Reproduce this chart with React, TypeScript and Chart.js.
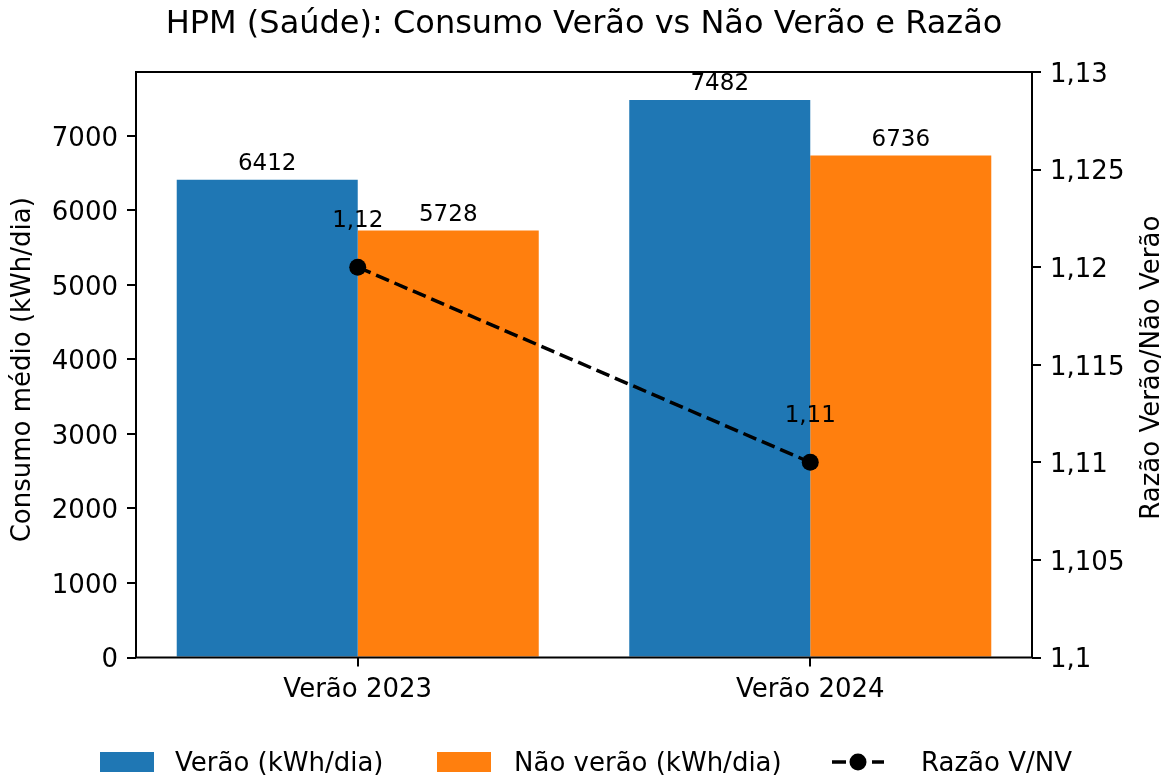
import React, { useEffect, useRef } from "react";
import { Chart, registerables } from "chart.js";

Chart.register(...registerables);

// ---- Data ----
const categories = ["Verão 2023", "Verão 2024"];
const veraoValues = [6412, 7482];
const naoVeraoValues = [5728, 6736];
const ratioValues = [1.12, 1.11];
const consumoTicks = [0, 1000, 2000, 3000, 4000, 5000, 6000, 7000];
const ratioTicks = [1.1, 1.105, 1.11, 1.115, 1.12, 1.125, 1.13];
const seriesNames = ["Verão (kWh/dia)", "Não verão (kWh/dia)", "Razão V/NV"];
const titleText = "HPM (Saúde): Consumo Verão vs Não Verão e Razão";
const leftAxisTitle = "Consumo médio (kWh/dia)";
const rightAxisTitle = "Razão Verão/Não Verão";

const BLUE = "#1f77b4";
const ORANGE = "#ff7f0e";
const FONT = "'DejaVu Sans', sans-serif";
const W = 1171;
const H = 776;

const fmtComma = (v: number, digits: number) =>
  Number(v.toFixed(digits)).toString().replace(".", ",");

const overlay = {
  id: "overlay",
  afterDatasetsDraw(chart: any) {
    const ctx = chart.ctx as CanvasRenderingContext2D;
    const { left, right, top, bottom } = chart.chartArea;
    ctx.save();
    ctx.fillStyle = "#000";
    ctx.textAlign = "center";
    ctx.textBaseline = "alphabetic";
    ctx.font = `23px ${FONT}`;
    [1, 2].forEach((di) => {
      const meta = chart.getDatasetMeta(di);
      meta.data.forEach((el: any, i: number) => {
        const v = chart.data.datasets[di].data[i].y;
        ctx.fillText(String(v), el.x, el.y - 9.5);
      });
    });
    const lm = chart.getDatasetMeta(0);
    lm.data.forEach((el: any, i: number) => {
      ctx.fillText(fmtComma(ratioValues[i], 2), el.x, el.y - 40);
    });
    // frame (spines)
    ctx.strokeStyle = "#000";
    ctx.lineWidth = 2;
    ctx.strokeRect(left, top, right - left, bottom - top);
    ctx.restore();
  },
  afterDraw(chart: any) {
    const ctx = chart.ctx as CanvasRenderingContext2D;
    const { left, right, top, bottom } = chart.chartArea;
    const midY = (top + bottom) / 2;
    ctx.save();
    ctx.fillStyle = "#000";
    // title
    ctx.font = `32px ${FONT}`;
    ctx.textAlign = "center";
    ctx.textBaseline = "alphabetic";
    ctx.fillText(titleText, (left + right) / 2, 33);
    // axis titles
    ctx.font = `26px ${FONT}`;
    ctx.textBaseline = "middle";
    ctx.save();
    ctx.translate(23, midY + 5);
    ctx.rotate(-Math.PI / 2);
    ctx.fillText(leftAxisTitle, 0, 0);
    ctx.restore();
    ctx.save();
    ctx.translate(1152, midY + 3);
    ctx.rotate(-Math.PI / 2);
    ctx.fillText(rightAxisTitle, 0, 0);
    ctx.restore();
    // legend
    const ly = 762;
    ctx.textAlign = "left";
    ctx.textBaseline = "alphabetic";
    ctx.font = `26px ${FONT}`;
    ctx.fillStyle = BLUE;
    ctx.fillRect(100, 752, 54, 20);
    ctx.fillStyle = "#000";
    ctx.fillText(seriesNames[0], 175, 771);
    ctx.fillStyle = ORANGE;
    ctx.fillRect(437, 752, 54, 20);
    ctx.fillStyle = "#000";
    ctx.fillText(seriesNames[1], 514, 771);
    // line handle
    ctx.strokeStyle = "#000";
    ctx.lineWidth = 3.5;
    ctx.setLineDash([14, 6]);
    ctx.beginPath();
    ctx.moveTo(832, ly);
    ctx.lineTo(884, ly);
    ctx.stroke();
    ctx.setLineDash([]);
    ctx.beginPath();
    ctx.arc(858, ly, 8.5, 0, Math.PI * 2);
    ctx.fill();
    ctx.fillText(seriesNames[2], 921, 771);
    ctx.restore();
  },
};

export default function App() {
  const ref = useRef<HTMLCanvasElement | null>(null);
  useEffect(() => {
    document.body.style.margin = "0";
    const canvas = ref.current;
    if (!canvas) return;
    const tickGrid = {
      display: true,
      offset: false,
      drawOnChartArea: false,
      drawTicks: true,
      tickLength: 9,
      color: "#000",
      lineWidth: 2,
    };
    const tickFont = { family: FONT, size: 26 };
    const chart = new Chart(canvas, {
      type: "bar",
      data: {
        datasets: [
          {
            type: "line",
            label: seriesNames[2],
            data: ratioValues.map((v, i) => ({ x: i, y: v })),
            xAxisID: "x",
            yAxisID: "y2",
            borderColor: "#000",
            borderWidth: 3.5,
            borderDash: [14, 6],
            pointRadius: 8.5,
            pointBackgroundColor: "#000",
            pointBorderColor: "#000",
            pointBorderWidth: 0,
            fill: false,
            tension: 0,
            order: 0,
          } as any,
          {
            type: "bar",
            label: seriesNames[0],
            data: veraoValues.map((v, i) => ({ x: i, y: v })),
            xAxisID: "x",
            yAxisID: "y",
            backgroundColor: BLUE,
            borderWidth: 0,
            categoryPercentage: 0.8,
            barPercentage: 1,
            order: 1,
          } as any,
          {
            type: "bar",
            label: seriesNames[1],
            data: naoVeraoValues.map((v, i) => ({ x: i, y: v })),
            xAxisID: "x",
            yAxisID: "y",
            backgroundColor: ORANGE,
            borderWidth: 0,
            categoryPercentage: 0.8,
            barPercentage: 1,
            order: 1,
          } as any,
        ],
      },
      options: {
        responsive: false,
        animation: false,
        layout: { padding: { top: 72, left: 0, right: 0, bottom: 0 } },
        plugins: {
          legend: { display: false },
          title: { display: false },
          tooltip: { enabled: false },
        },
        scales: {
          x: {
            type: "linear",
            min: -0.49,
            max: 1.49,
            offset: false,
            grid: tickGrid,
            border: { display: false },
            ticks: {
              autoSkip: false,
              maxRotation: 0,
              padding: 8,
              color: "#000",
              font: tickFont,
              callback: (v: any) => categories[Math.round(Number(v))],
            },
            afterBuildTicks: (s: any) => {
              s.ticks = categories.map((_, i) => ({ value: i }));
            },
            afterFit: (s: any) => {
              s.height = H - 657.5;
            },
          },
          y: {
            type: "linear",
            position: "left",
            min: 0,
            max: Math.max(...veraoValues, ...naoVeraoValues) * 1.05,
            grid: tickGrid,
            border: { display: false },
            ticks: {
              autoSkip: false,
              padding: 9,
              labelOffset: 3,
              color: "#000",
              font: tickFont,
              callback: (v: any) => String(v),
            },
            afterBuildTicks: (s: any) => {
              s.ticks = consumoTicks.map((v) => ({ value: v }));
            },
            afterFit: (s: any) => {
              s.width = 136;
            },
          },
          y2: {
            type: "linear",
            position: "right",
            min: 1.1,
            max: 1.13,
            grid: tickGrid,
            border: { display: false },
            ticks: {
              autoSkip: false,
              padding: 9,
              labelOffset: 3,
              color: "#000",
              font: tickFont,
              callback: (v: any) => fmtComma(Number(v), 3),
            },
            afterBuildTicks: (s: any) => {
              s.ticks = ratioTicks.map((v) => ({ value: v }));
            },
            afterFit: (s: any) => {
              s.width = W - 1032;
            },
          },
        },
      } as any,
      plugins: [overlay],
    });
    return () => chart.destroy();
  }, []);
  return (
    <div style={{ width: W, height: H }}>
      <canvas ref={ref} width={W} height={H} style={{ display: "block", width: W, height: H }} />
    </div>
  );
}
